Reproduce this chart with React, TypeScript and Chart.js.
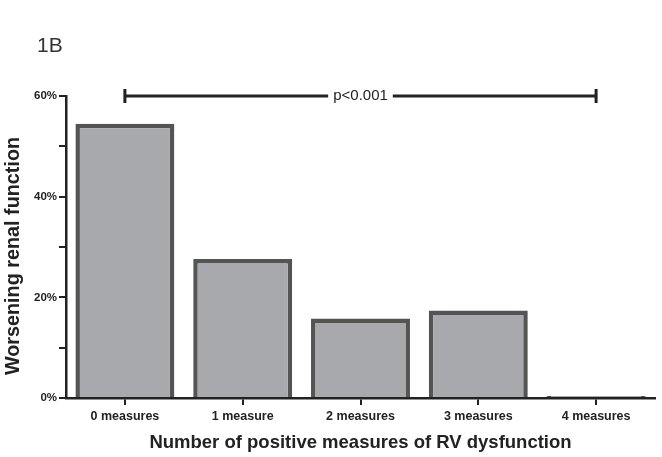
import React, { useEffect, useRef } from "react";
import { Chart, registerables } from "chart.js";

Chart.register(...registerables);

const categories = ["0 measures", "1 measure", "2 measures", "3 measures", "4 measures"];
const values = [54.5, 27.6, 15.8, 17.4, 0.4];
const yTicks = [0, 10, 20, 30, 40, 50, 60];
const labeledTicks = [0, 20, 40, 60];
const panelLabel = "1B";
const pLabel = "p<0.001";
const bracketFrom = 0;
const bracketTo = 4;
const bracketLevel = 60;
const xTitle = "Number of positive measures of RV dysfunction";
const yTitle = "Worsening renal function";

const FONT = "'Liberation Sans', Arial, sans-serif";
const INK = "#222222";

const annotations = {
  id: "annotations",
  afterDraw(chart: any) {
    const ctx = chart.ctx;
    const xs = chart.scales.x;
    const ys = chart.scales.y;
    const area = chart.chartArea;
    ctx.save();
    // panel label
    ctx.fillStyle = "#333333";
    ctx.font = `21px ${FONT}`;
    ctx.textAlign = "left";
    ctx.textBaseline = "middle";
    ctx.fillText(panelLabel, 37, 46);
    // axis titles
    ctx.fillStyle = INK;
    ctx.font = `bold 18.5px ${FONT}`;
    ctx.textAlign = "center";
    ctx.textBaseline = "alphabetic";
    ctx.fillText(xTitle, (area.left + area.right) / 2, 448);
    ctx.save();
    ctx.translate(19, (area.top + area.bottom) / 2 + 9);
    ctx.rotate(-Math.PI / 2);
    ctx.font = `bold 19.8px ${FONT}`;
    ctx.fillText(yTitle, 0, 0);
    ctx.restore();
    // bracket
    const x0 = xs.getPixelForValue(bracketFrom);
    const x1 = xs.getPixelForValue(bracketTo);
    const y = ys.getPixelForValue(bracketLevel);
    ctx.font = `15px ${FONT}`;
    const tw = ctx.measureText(pLabel).width;
    const mid = (x0 + x1) / 2;
    ctx.strokeStyle = INK;
    ctx.lineWidth = 3;
    ctx.lineCap = "butt";
    ctx.beginPath();
    ctx.moveTo(x0, y);
    ctx.lineTo(mid - tw / 2 - 5, y);
    ctx.moveTo(mid + tw / 2 + 5, y);
    ctx.lineTo(x1, y);
    ctx.moveTo(x0, y - 7);
    ctx.lineTo(x0, y + 7);
    ctx.moveTo(x1, y - 7);
    ctx.lineTo(x1, y + 7);
    ctx.stroke();
    ctx.fillStyle = INK;
    ctx.textAlign = "center";
    ctx.textBaseline = "middle";
    ctx.fillText(pLabel, mid, y);
    ctx.restore();
  },
};

export default function App() {
  const ref = useRef<HTMLCanvasElement | null>(null);
  useEffect(() => {
    if (!ref.current) return;
    const chart = new Chart(ref.current, {
      type: "bar",
      data: {
        labels: categories,
        datasets: [
          {
            data: values,
            backgroundColor: "#a8a9ad",
            borderColor: "#545454",
            borderWidth: 4.5,
            barPercentage: 0.84,
            categoryPercentage: 1,
          },
        ],
      },
      options: {
        animation: false,
        responsive: false,
        layout: { padding: { top: 96, right: 7, left: 0, bottom: 0 } },
        plugins: { legend: { display: false }, tooltip: { enabled: false } },
        scales: {
          x: {
            type: "category",
            offset: true,
            grid: {
              offset: false,
              drawOnChartArea: false,
              drawTicks: true,
              tickLength: 7,
              color: INK,
              lineWidth: 2,
            },
            border: { display: true, color: INK, width: 2.5 },
            ticks: {
              color: INK,
              font: { family: FONT, size: 12.5, weight: "bold" },
              padding: 4,
              maxRotation: 0,
            },
            afterFit: (s: any) => {
              s.height = 59;
            },
          },
          y: {
            min: 0,
            max: 60,
            afterBuildTicks: (s: any) => {
              s.ticks = yTicks.map((v) => ({ value: v }));
            },
            grid: {
              drawOnChartArea: false,
              drawTicks: true,
              tickLength: 7,
              color: INK,
              lineWidth: 2,
            },
            border: { display: true, color: INK, width: 2.5 },
            ticks: {
              color: INK,
              font: { family: FONT, size: 11.5, weight: "bold" },
              padding: 2,
              callback: (v: any) => (labeledTicks.includes(Number(v)) ? `${v}%` : ""),
            },
            afterFit: (s: any) => {
              s.width = 66;
            },
          },
        },
      },
      plugins: [annotations],
    });
    return () => chart.destroy();
  }, []);
  return (
    <div style={{ position: "fixed", left: 0, top: 0, width: 662, height: 457, background: "#fff" }}>
      <canvas ref={ref} width={662} height={457} />
    </div>
  );
}
